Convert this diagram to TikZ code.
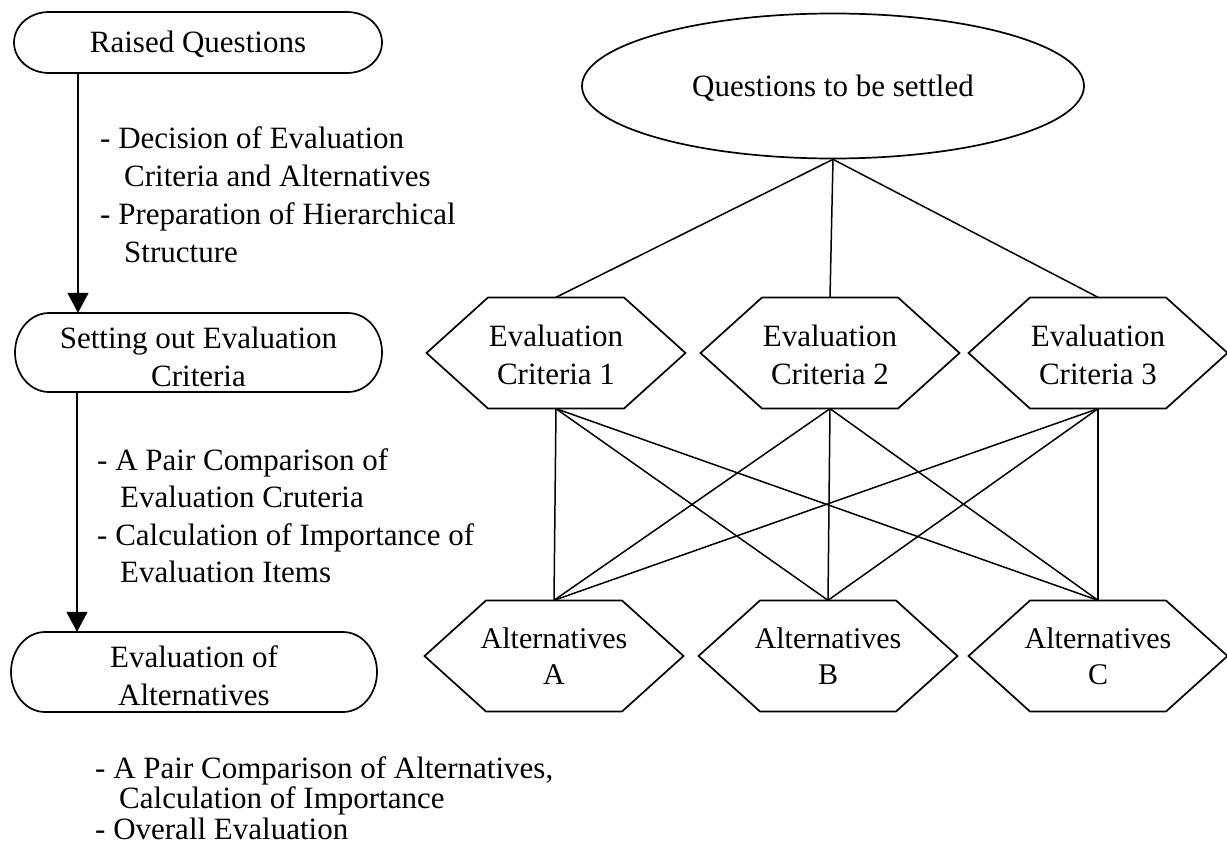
\documentclass[tikz,border=0pt]{standalone}
\usepackage{fontspec}
\setmainfont{Liberation Serif}
\usetikzlibrary{arrows.meta,shapes.geometric}
\newcommand\pillpath[4]{%
  \draw[outline] ([shift={(-#2,-#3)}]#1.center) -- ([shift={(#2,-#3)}]#1.center)
    arc[start angle=90,end angle=-90,x radius=#4pt,y radius=#3pt]
    -- ([shift={(-#2,#3)}]#1.center)
    arc[start angle=270,end angle=90,x radius=#4pt,y radius=#3pt] -- cycle;}
\newcommand\hexpath[1]{%
  \draw[outline] ([shift={(-68,-55.5)}]#1.center) -- ([shift={(68,-55.5)}]#1.center)
    -- ([shift={(129.5,0)}]#1.center) -- ([shift={(68,55.5)}]#1.center)
    -- ([shift={(-68,55.5)}]#1.center) -- ([shift={(-129.5,0)}]#1.center) -- cycle;}
\begin{document}
\begin{tikzpicture}[x=1pt,y=-1pt,
  every node/.style={font=\fontsize{31}{38}\selectfont, inner sep=0pt},
  outline/.style={line width=1.7pt},
  conn/.style={line width=1.5pt},
  arr/.style={line width=1.6pt,-{Triangle[length=20pt,width=21pt]}},
  pillbox/.style={minimum width=290pt, align=center},
  hexbox/.style={minimum width=130pt, minimum height=111pt, align=center},
  side/.style={anchor=base west}]
\fill[white] (0,0) rectangle (1227,851);
\useasboundingbox (0,0) rectangle (1227,851);

% left column: process steps
\node[pillbox, minimum height=61pt, text height=21pt, text depth=0pt] (rq) at (198,42.5) {Raised Questions};
\node[pillbox, minimum height=79pt] (so) at (198.5,352.5) {\rule{0pt}{30pt}Setting out Evaluation\\Criteria};
\node[pillbox, minimum height=80pt] (ea) at (194,672) {\rule{0pt}{30pt}Evaluation of\\Alternatives};
\pillpath{rq}{149}{30.5}{35}
\pillpath{so}{149.5}{39.5}{34}
\pillpath{ea}{149}{40}{34}

\draw[arr] ([xshift=-120pt]rq.south) -- ([xshift=-120.5pt]so.north);
\draw[arr] ([xshift=-121.5pt]so.south) -- ([xshift=-117pt]ea.north);

% side notes
\node[side] (t11) at (100,148) {- Decision of Evaluation};
\node[side] (t12) at (124,186) {Criteria and Alternatives};
\node[side] (t13) at (100,224) {- Preparation of Hierarchical};
\node[side] (t14) at (124,262) {Structure};

\node[side] (t21) at (97,470) {- A Pair Comparison of};
\node[side] (t22) at (120,507) {Evaluation Cruteria};
\node[side] (t23) at (97,545) {- Calculation of Importance of};
\node[side] (t24) at (120,582) {Evaluation Items};

\node[side] (t31) at (95,778) {- A Pair Comparison of Alternatives,};
\node[side] (t32) at (119,808) {Calculation of Importance};
\node[side] (t33) at (95,839) {- Overall Evaluation};

% right: hierarchy
\node[ellipse, draw, outline, minimum width=502pt, minimum height=145pt, text height=21pt, text depth=0pt] (q) at (833,86) {Questions to be settled};

\node[hexbox] (c1) at (556,353) {\rule{0pt}{26pt}Evaluation\\Criteria 1};
\node[hexbox] (c2) at (830,353) {\rule{0pt}{26pt}Evaluation\\Criteria 2};
\node[hexbox] (c3) at (1098,353) {\rule{0pt}{26pt}Evaluation\\Criteria 3};
\node[hexbox, font=\fontsize{30}{36}\selectfont] (a1) at (554,656) {Alternatives\\A};
\node[hexbox, font=\fontsize{30}{36}\selectfont] (a2) at (828,656) {Alternatives\\B};
\node[hexbox, font=\fontsize{30}{36}\selectfont] (a3) at (1098,656) {Alternatives\\C};
\foreach \n in {c1,c2,c3,a1,a2,a3} {\hexpath{\n}}

\foreach \c in {c1,c2,c3} {\draw[conn] (q.south) -- (\c.north);}
\foreach \c in {c1,c2,c3} {\foreach \a in {a1,a2,a3} {\draw[conn] (\c.south) -- (\a.north);}}
\end{tikzpicture}
\end{document}
